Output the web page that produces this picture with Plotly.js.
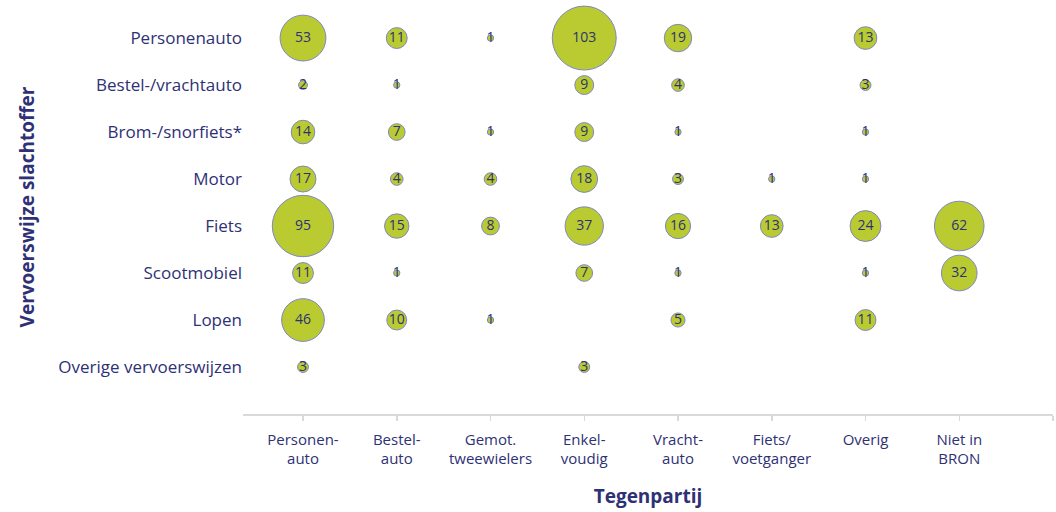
<!DOCTYPE html>
<html>
<head>
<meta charset="utf-8">
<script src="https://cdn.plot.ly/plotly-3.0.1.min.js"></script>
<style>html,body{margin:0;padding:0;background:#fff;}#chart{width:1056px;height:512px;}</style>
</head>
<body>
<div id="chart"></div>
<script>
// Opponent categories (x axis)
const tegenpartij = ["Personen-<br>auto", "Bestel-<br>auto", "Gemot.<br>tweewielers", "Enkel-<br>voudig", "Vracht-<br>auto", "Fiets/<br>voetganger", "Overig", "Niet in<br>BRON"];
// Victim mode categories (y axis, top to bottom)
const slachtoffer = ["Personenauto", "Bestel-/vrachtauto", "Brom-/snorfiets*", "Motor", "Fiets", "Scootmobiel", "Lopen", "Overige vervoerswijzen"];
// Counts per victim row, in opponent order (null = no bubble)
const personenauto = [53, 11, 1, 103, 19, null, 13, null];
const bestelVracht = [2, 1, null, 9, 4, null, 3, null];
const bromSnor     = [14, 7, 1, 9, 1, null, 1, null];
const motor        = [17, 4, 4, 18, 3, 1, 1, null];
const fiets        = [95, 15, 8, 37, 16, 13, 24, 62];
const scootmobiel  = [11, 1, null, 7, 1, null, 1, 32];
const lopen        = [46, 10, 1, null, 5, null, 11, null];
const overige      = [3, null, null, 3, null, null, null, null];

const rows = [personenauto, bestelVracht, bromSnor, motor, fiets, scootmobiel, lopen, overige];
const nRows = slachtoffer.length;

const xs = [], ys = [], vs = [];
rows.forEach((row, ri) => {
  row.forEach((v, ci) => {
    if (v !== null) {
      xs.push(ci + 1);
      ys.push(nRows - ri);
      vs.push(v);
    }
  });
});

const navy = "#2E3175";
const font = "'Open Sans', 'Noto Sans', sans-serif";

const trace = {
  type: "scatter",
  mode: "markers+text",
  x: xs,
  y: ys,
  text: vs.map(String),
  textposition: "middle center",
  textfont: {family: font, size: 14, color: navy},
  marker: {
    size: vs,
    sizemode: "area",
    sizeref: 0.0504,
    sizemin: 1,
    color: "#B9CB31",
    line: {color: "#7F87C2", width: 1},
    opacity: 1
  },
  hoverinfo: "skip",
  cliponaxis: false,
  showlegend: false
};

const layout = {
  width: 1056,
  height: 512,
  margin: {l: 243, r: 3, t: 0, b: 98},
  paper_bgcolor: "#ffffff",
  plot_bgcolor: "#ffffff",
  font: {family: font, color: navy},
  xaxis: {
    range: [0.36, 9.0],
    tickvals: [1, 2, 3, 4, 5, 6, 7, 8, 9],
    ticktext: tegenpartij.concat([""]),
    ticks: "outside",
    ticklen: 5,
    tickcolor: "#D9D9D9",
    tickwidth: 1.5,
    ticklabelstandoff: 6,
    tickfont: {family: font, size: 15, color: navy},
    showgrid: false,
    zeroline: false,
    showline: true,
    linecolor: "#D9D9D9",
    linewidth: 1.5,
    title: {text: "<b>Tegenpartij</b>", font: {family: font, size: 19, color: navy}, standoff: 22},
    fixedrange: true
  },
  yaxis: {
    range: [0, 8.81],
    tickvals: slachtoffer.map((_, i) => nRows - i),
    ticktext: slachtoffer,
    ticks: "",
    tickfont: {family: font, size: 17, color: navy},
    showgrid: false,
    zeroline: false,
    showline: false,
    title: {text: "<b>Vervoerswijze slachtoffer</b>", font: {family: font, size: 19, color: navy}, standoff: 18},
    fixedrange: true
  }
};

Plotly.newPlot("chart", [trace], layout, {displayModeBar: false, staticPlot: true});
</script>
</body>
</html>
